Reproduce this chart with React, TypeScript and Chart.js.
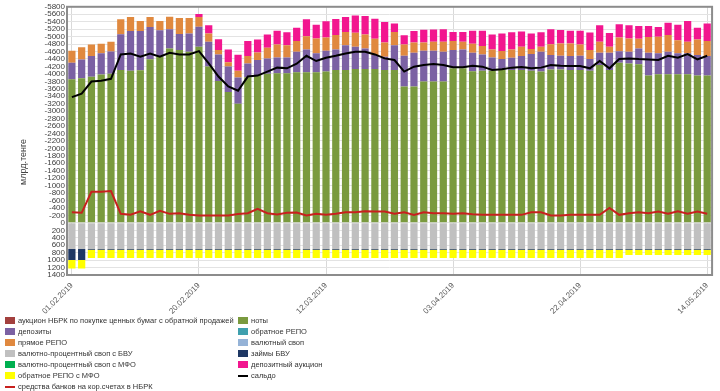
import React, { useEffect, useRef } from 'react';
import { Chart, registerables } from 'chart.js';

Chart.register(...registerables);

const categories: string[] = [
  '01.02.2019', '04.02.2019', '05.02.2019', '06.02.2019', '07.02.2019', '08.02.2019', '11.02.2019', '12.02.2019',
  '13.02.2019', '14.02.2019', '15.02.2019', '18.02.2019', '19.02.2019', '20.02.2019', '21.02.2019', '22.02.2019',
  '25.02.2019', '26.02.2019', '27.02.2019', '28.02.2019', '01.03.2019', '04.03.2019', '05.03.2019', '06.03.2019',
  '07.03.2019', '11.03.2019', '12.03.2019', '13.03.2019', '14.03.2019', '15.03.2019', '18.03.2019', '19.03.2019',
  '20.03.2019', '26.03.2019', '27.03.2019', '28.03.2019', '29.03.2019', '01.04.2019', '02.04.2019', '03.04.2019',
  '04.04.2019', '05.04.2019', '08.04.2019', '09.04.2019', '10.04.2019', '11.04.2019', '12.04.2019', '15.04.2019',
  '16.04.2019', '17.04.2019', '18.04.2019', '19.04.2019', '22.04.2019', '23.04.2019', '24.04.2019', '25.04.2019',
  '26.04.2019', '29.04.2019', '30.04.2019', '02.05.2019', '03.05.2019', '06.05.2019', '08.05.2019', '10.05.2019',
  '13.05.2019', '14.05.2019',
];

const shownDates: string[] = ['01.02.2019', '20.02.2019', '12.03.2019', '03.04.2019', '22.04.2019', '14.05.2019'];

// ноты
const notes: number[] = [
  3855, 3880, 3920, 3980, 4000, 4105, 4085, 4095, 4390, 4460, 4680, 4640, 4595, 4725, 4195, 3810,
  3510, 3200, 3910, 3970, 4000, 4015, 4015, 4040, 4040, 4040, 4060, 4105, 4105, 4130, 4130, 4130,
  4105, 4105, 3660, 3660, 3795, 3795, 3795, 4150, 4150, 4070, 4080, 4085, 4105, 4105, 4105, 4080,
  4060, 4120, 4120, 4105, 4105, 4085, 4240, 4105, 4300, 4280, 4255, 3955, 3990, 3990, 3990, 3990,
  3955, 3955,
];
// депозиты
const deposits: number[] = [
  445, 505, 560, 570, 600, 960, 1065, 1055, 870, 710, 515, 430, 485, 540, 665, 710,
  685, 700, 370, 400, 415, 425, 425, 555, 615, 510, 560, 550, 665, 595, 550, 375,
  355, 665, 825, 905, 825, 825, 800, 490, 505, 495, 440, 355, 295, 330, 375, 450,
  535, 385, 365, 375, 380, 315, 325, 460, 310, 315, 425, 610, 560, 605, 560, 560,
  550, 525,
];
// прямое РЕПО
const directRepo: number[] = [
  320, 330, 310, 260, 260, 400, 375, 270, 265, 250, 335, 430, 420, 260, 220, 120,
  115, 185, 200, 200, 285, 345, 330, 285, 355, 400, 355, 385, 355, 380, 375, 440,
  380, 355, 300, 275, 220, 240, 265, 240, 205, 240, 225, 215, 215, 220, 250, 135,
  135, 290, 330, 335, 300, 240, 295, 160, 365, 355, 265, 425, 445, 445, 355, 310,
  415, 400,
];
// депозитный аукцион
const depositAuction: number[] = [
  0, 0, 0, 0, 0, 0, 0, 0, 0, 0, 0, 0, 0, 80, 225, 290,
  345, 430, 400, 350, 355, 375, 345, 360, 455, 370, 435, 435, 400, 460, 500, 535,
  550, 225, 250, 310, 345, 330, 340, 245, 265, 355, 415, 400, 470, 465, 410, 415,
  390, 400, 365, 345, 375, 470, 445, 375, 355, 355, 340, 295, 265, 335, 415, 560,
  320, 470,
];
// валютно-процентный своп с БВУ
const fxSwapBVU: number[] = [
  -700, -700, -700, -700, -700, -700, -700, -700, -700, -700, -700, -700, -700, -700, -700, -700,
  -700, -700, -700, -700, -700, -700, -700, -700, -700, -700, -700, -700, -700, -700, -700, -700,
  -700, -700, -700, -700, -700, -700, -700, -700, -700, -700, -700, -700, -700, -700, -700, -700,
  -700, -700, -700, -700, -700, -700, -700, -700, -700, -700, -700, -700, -700, -700, -700, -700,
  -700, -700,
];
// займы БВУ
const loansBVU: number[] = [
  -300, -300, -25, -25, -25, -25, -25, -25, -25, -25, -25, -25, -25, -25, -25, -25,
  -25, -25, -25, -25, -25, -25, -25, -25, -25, -25, -25, -25, -25, -25, -25, -25,
  -25, -25, -25, -25, -25, -25, -25, -25, -25, -25, -25, -25, -25, -25, -25, -25,
  -25, -25, -25, -25, -25, -25, -25, -25, -25, -25, -25, -25, -25, -25, -25, -25,
  -25, -25,
];
// обратное РЕПО с МФО
const reverseRepoMFO: number[] = [
  -225, -225, -220, -220, -220, -220, -220, -220, -220, -220, -220, -220, -220, -220, -220, -220,
  -220, -220, -220, -220, -220, -220, -220, -220, -220, -220, -220, -220, -220, -220, -220, -220,
  -220, -220, -220, -220, -220, -220, -220, -220, -220, -220, -220, -220, -220, -220, -220, -220,
  -220, -220, -220, -220, -220, -220, -220, -220, -220, -135, -135, -135, -135, -135, -135, -135,
  -135, -135,
];
// средства банков на кор.счетах в НБРК
const bankReserves: number[] = [
  285, 269, 836, 836, 855, 242, 216, 312, 216, 322, 242, 259, 216, 197, 197, 197,
  197, 235, 259, 375, 259, 224, 269, 276, 197, 242, 215, 242, 285, 285, 312, 303,
  303, 242, 285, 215, 285, 259, 259, 242, 259, 230, 215, 215, 215, 215, 215, 285,
  285, 197, 197, 215, 215, 215, 215, 402, 215, 259, 285, 259, 303, 242, 312, 242,
  303, 242,
];
// сальдо
const saldo: number[] = [
  3375, 3466, 3793, 3812, 3866, 4521, 4548, 4460, 4548, 4460, 4566, 4521, 4521, 4611, 4281, 3927,
  3660, 3546, 3927, 3953, 4060, 4167, 4148, 4273, 4486, 4344, 4433, 4486, 4548, 4593, 4593, 4521,
  4415, 4372, 4060, 4193, 4238, 4265, 4238, 4175, 4175, 4215, 4193, 4105, 4122, 4167, 4185, 4148,
  4167, 4238, 4220, 4211, 4211, 4148, 4344, 4148, 4398, 4415, 4398, 4388, 4372, 4486, 4433, 4532,
  4388, 4486,
];

const leftLegend: { label: string; color: string; kind: 'box' | 'line' }[] = [
  { label: 'аукцион НБРК по покупке ценных бумаг с обратной продажей', color: '#A3403E', kind: 'box' },
  { label: 'депозиты', color: '#7B61A3', kind: 'box' },
  { label: 'прямое РЕПО', color: '#E0893F', kind: 'box' },
  { label: 'валютно-процентный своп с БВУ', color: '#C0C0C0', kind: 'box' },
  { label: 'валютно-процентный своп с МФО', color: '#00B050', kind: 'box' },
  { label: 'обратное РЕПО с МФО', color: '#FFFF00', kind: 'box' },
  { label: 'средства банков на кор.счетах в НБРК', color: '#C8201E', kind: 'line' },
];
const rightLegend: { label: string; color: string; kind: 'box' | 'line' }[] = [
  { label: 'ноты', color: '#7A9A3E', kind: 'box' },
  { label: 'обратное РЕПО', color: '#3FA0AE', kind: 'box' },
  { label: 'валютный своп', color: '#95B3D7', kind: 'box' },
  { label: 'займы БВУ', color: '#1F3864', kind: 'box' },
  { label: 'депозитный аукцион', color: '#F2168F', kind: 'box' },
  { label: 'сальдо', color: '#000000', kind: 'line' },
];

const FONT = '"Liberation Sans", Arial, sans-serif';

const framePlugin = {
  id: 'frame',
  afterDraw(chart: any) {
    const { ctx, chartArea } = chart;
    ctx.save();
    ctx.strokeStyle = '#8c8c8c';
    ctx.lineWidth = 2;
    ctx.strokeRect(chartArea.left, chartArea.top, chartArea.right - chartArea.left, chartArea.bottom - chartArea.top);
    ctx.translate(24, 162);
    ctx.rotate(-Math.PI / 2);
    ctx.font = `9px ${FONT}`;
    ctx.fillStyle = '#404040';
    ctx.textAlign = 'center';
    ctx.textBaseline = 'middle';
    ctx.fillText('млрд.тенге', 0, 0);
    ctx.restore();
  },
};

function LegendCol({ items, boxX }: { items: typeof leftLegend; boxX: number }) {
  return (
    <>
      {items.map((it, i) => (
        <div
          key={it.label}
          style={{
            position: 'absolute',
            left: boxX,
            top: 320 + i * 11.1 - 6,
            height: 12,
            display: 'flex',
            alignItems: 'center',
            whiteSpace: 'nowrap',
            font: `7.5px ${FONT}`,
            color: '#333',
          }}
        >
          <span
            style={{
              display: 'inline-block',
              width: 10,
              height: it.kind === 'box' ? 7 : 2,
              background: it.color,
              marginRight: 3,
              flex: 'none',
            }}
          />
          <span>{it.label}</span>
        </div>
      ))}
    </>
  );
}

export default function App() {
  const ref = useRef<HTMLCanvasElement | null>(null);

  useEffect(() => {
    if (!ref.current) return;
    const barCommon = { type: 'bar' as const, stack: 'bars', order: 2, barPercentage: 0.74, categoryPercentage: 1.0 };
    const chart = new Chart(ref.current, {
      type: 'bar',
      data: {
        labels: categories,
        datasets: [
          { ...barCommon, label: 'ноты', data: notes, backgroundColor: '#7A9A3E' },
          { ...barCommon, label: 'депозиты', data: deposits, backgroundColor: '#7B61A3' },
          { ...barCommon, label: 'прямое РЕПО', data: directRepo, backgroundColor: '#E0893F' },
          { ...barCommon, label: 'депозитный аукцион', data: depositAuction, backgroundColor: '#F2168F' },
          { ...barCommon, label: 'валютно-процентный своп с БВУ', data: fxSwapBVU, backgroundColor: '#C0C0C0' },
          { ...barCommon, label: 'займы БВУ', data: loansBVU, backgroundColor: '#1F3864' },
          { ...barCommon, label: 'обратное РЕПО с МФО', data: reverseRepoMFO, backgroundColor: '#FFFF00' },
          {
            type: 'line' as const, label: 'средства банков на кор.счетах в НБРК', data: bankReserves, stack: 'l1', order: 1,
            borderColor: '#C8201E', borderWidth: 2, pointRadius: 0, tension: 0, fill: false,
          } as any,
          {
            type: 'line' as const, label: 'сальдо', data: saldo, stack: 'l2', order: 0,
            borderColor: '#000000', borderWidth: 2, pointRadius: 0, tension: 0, fill: false,
          } as any,
        ],
      },
      options: {
        animation: false,
        responsive: false,
        maintainAspectRatio: false,
        layout: { padding: { left: 0, right: 3, top: 4, bottom: 0 } },
        plugins: { legend: { display: false }, tooltip: { enabled: false } },
        scales: {
          x: {
            stacked: true,
            offset: true,
            grid: {
              offset: false,
              drawTicks: false,
              color: (c: any) => (shownDates.includes(categories[c.index]) ? '#d9d9d9' : 'rgba(0,0,0,0)'),
            },
            border: { display: false },
            ticks: {
              autoSkip: false,
              maxRotation: 45,
              minRotation: 45,
              padding: 6,
              color: '#595959',
              font: { family: FONT, size: 8 },
              callback: (_v: any, i: number) => (shownDates.includes(categories[i]) ? categories[i] : ''),
            },
            afterFit: (s: any) => { s.height = 116; },
          },
          y: {
            stacked: true,
            min: -1400,
            max: 5800,
            grid: { color: '#e3e3e3', drawTicks: false },
            border: { display: false },
            ticks: {
              stepSize: 200,
              autoSkip: false,
              padding: 2,
              color: '#404040',
              font: { family: FONT, size: 8 },
              callback: (v: any) => (v > 0 ? '-' + v : String(Math.abs(v))),
            },
            afterFit: (s: any) => { s.width = 67; },
          },
        },
      } as any,
      plugins: [framePlugin],
    });
    return () => chart.destroy();
  }, []);

  return (
    <div style={{ position: 'fixed', left: 0, top: 0, width: 720, height: 391, background: '#fff', overflow: 'hidden' }}>
      <canvas ref={ref} width={720} height={391} style={{ position: 'absolute', left: 0, top: 0, width: 720, height: 391 }} />
      <LegendCol items={leftLegend} boxX={5} />
      <LegendCol items={rightLegend} boxX={238} />
    </div>
  );
}
